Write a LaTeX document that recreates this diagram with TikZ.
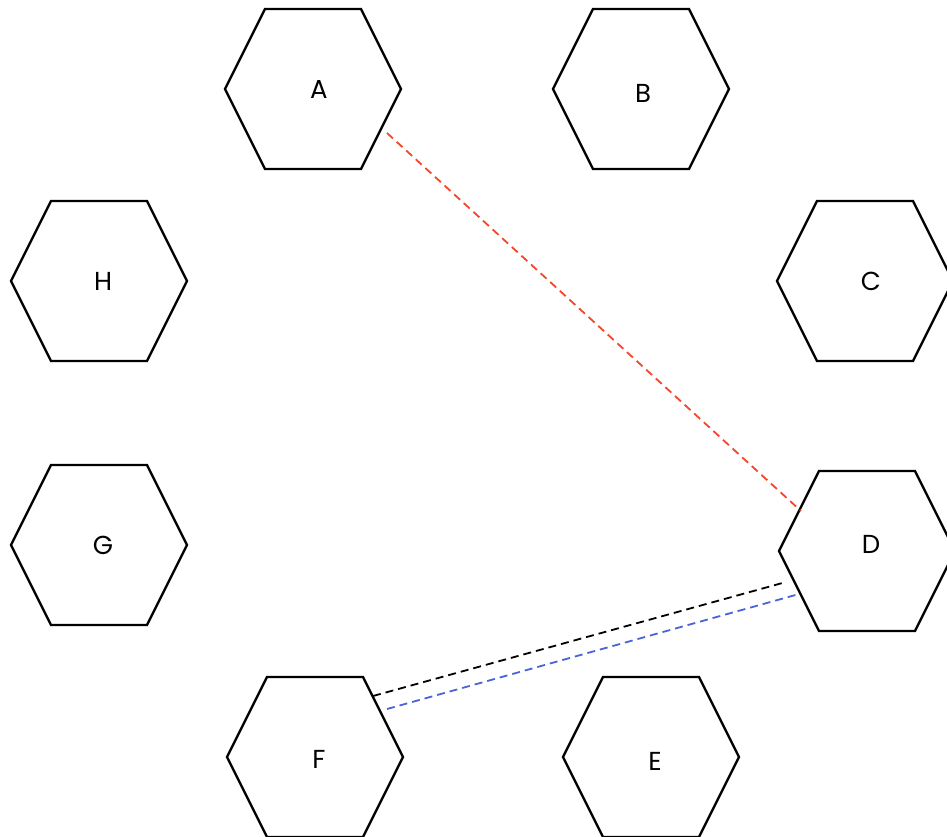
\documentclass[tikz,border=0pt]{standalone}
\usepackage{fontspec}
\setmainfont{Poppins}
\begin{document}
\begin{tikzpicture}[x=1pt,y=-1pt,
  hexline/.style={line width=2.3pt,line join=miter,black},
  lbl/.style={font=\fontsize{26}{26}\selectfont,inner sep=0pt},
  dashconn/.style={line width=1.8pt,dash pattern=on 8pt off 5pt}]
\useasboundingbox (0,0) rectangle (947,836);
\definecolor{redline}{HTML}{F4472A}
\definecolor{blueline}{HTML}{4A63D6}
\newcommand{\hexagon}[5]{%
  \draw[hexline] (#1-88,#2) -- (#1-48,#2-80) -- (#1+48,#2-80) -- (#1+88,#2) -- (#1+48,#2+80) -- (#1-48,#2+80) -- cycle;
  \node[lbl] (#3) at (#4,#5) {#3};}
\begin{scope}
\clip (0,0) rectangle (947,836);
\hexagon{313}{89}{A}{319}{89}
\hexagon{641}{89}{B}{643}{93}
\hexagon{865}{281}{C}{871}{281}
\hexagon{867}{551}{D}{871}{544}
\hexagon{651}{757}{E}{655}{761}
\hexagon{315}{757}{F}{319}{759}
\hexagon{99}{545}{G}{103}{545}
\hexagon{99}{281}{H}{103}{281}
\end{scope}
\coordinate (a1) at (387,133);
\coordinate (d1) at (801,511);
\coordinate (f1) at (373,696);
\coordinate (d2) at (786,582);
\coordinate (f2) at (387,709);
\coordinate (d3) at (799,594);
\draw[dashconn,redline] (a1) -- (d1);
\draw[dashconn,black] (f1) -- (d2);
\draw[dashconn,blueline] (f2) -- (d3);
\end{tikzpicture}
\end{document}
